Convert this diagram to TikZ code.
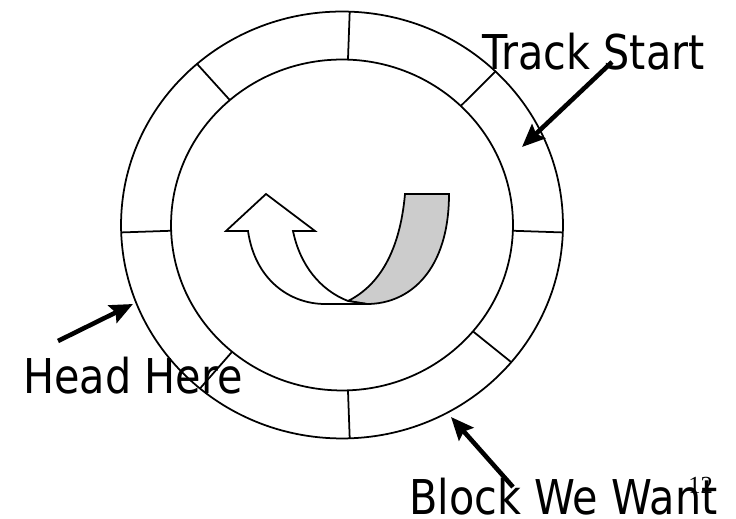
\documentclass[tikz,border=0pt]{standalone}
\usepackage{fontspec}
\setmainfont{DejaVu Sans}[FakeStretch=0.862]
\newfontfamily\pagefont{Liberation Serif}
\usepackage{tikz}
\usetikzlibrary{arrows.meta}
\definecolor{bandgray}{gray}{0.8}
\begin{document}
\begin{tikzpicture}[
  x=0.02cm, y=0.02cm,
  font=\fontsize{27.3}{30}\selectfont,
  ring/.style={line width=1pt},
  uturn/.style={line width=1pt, line join=miter},
  label/.style={anchor=base west, inner sep=0pt},
  arrow/.style={-{Stealth[length=13pt,width=11pt,inset=2pt]}, line width=2.6pt}
]
  \useasboundingbox (0,0) rectangle (736,519);

  % Platter: two rings and eight sectors
  \coordinate (hub) at (342,294);
  \draw[ring] (hub) ellipse [x radius=4.42cm, y radius=4.27cm];
  \draw[ring] (hub) ellipse [x radius=3.42cm, y radius=3.31cm];
  \foreach \a in {88,46,-2,-40,-88,-130,182,131}
    \draw[ring, shift={(hub)}] (\a:171 and 165.5) -- (\a:221 and 213.5);

  % Rotation arrow in the middle
  \draw[uturn, fill=bandgray] (405,325) -- (449,325)
    .. controls (449,249) and (410,215) .. (367,215) -- (348,218)
    .. controls (380,234) and (400,269) .. (405,325) -- cycle;
  \draw[uturn, fill=white] (367,215) -- (325,215)
    .. controls (290,215) and (255,239) .. (248,288) -- (226,288)
    -- (266,325) -- (315,288) -- (293,288)
    .. controls (300,254) and (320,229) .. (348,218) -- cycle;

  % Labels
  \node[label] (start) at (482,449) {Track Start};
  \node[label] (head) at (23,125) {Head Here};
  \node[label] (want) at (409,4) {Block We Want};
  \node[label, font=\pagefont\fontsize{14}{16}\selectfont] (page) at (688,25) {12};

  % Pointers
  \coordinate (start-tail) at (612,457);
  \coordinate (start-tip) at (522,372);
  \coordinate (head-tail) at (58,178);
  \coordinate (head-tip) at (133,215);
  \coordinate (want-tail) at (513,32);
  \coordinate (want-tip) at (451,102);

  \draw[arrow] (start-tail) -- (start-tip);
  \draw[arrow] (head-tail) -- (head-tip);
  \draw[arrow] (want-tail) -- (want-tip);

\end{tikzpicture}
\end{document}
